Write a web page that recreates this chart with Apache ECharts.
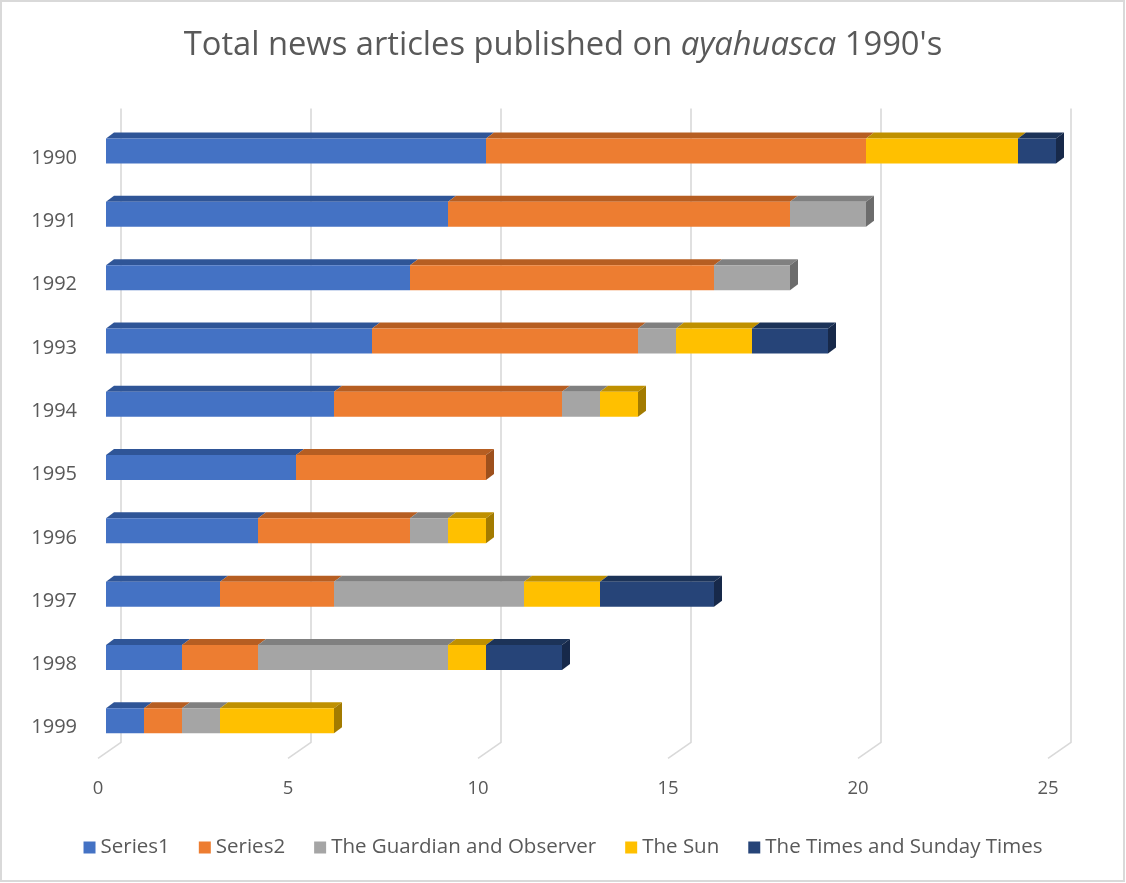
<!DOCTYPE html>
<html>
<head>
<meta charset="utf-8">
<script src="https://cdn.jsdelivr.net/npm/echarts@6/dist/echarts.min.js"></script>
<style>html,body{margin:0;padding:0;background:#fff;}#c{width:1126px;height:883px;}</style>
</head>
<body>
<div id="c"></div>
<script>
// ---- data ----
var years = ['1990','1991','1992','1993','1994','1995','1996','1997','1998','1999'];
var seriesNames = ['Series1','Series2','The Guardian and Observer','The Sun','The Times and Sunday Times'];
var series1  = [10, 9, 8, 7, 6, 5, 4, 3, 2, 1];
var series2  = [10, 9, 8, 7, 6, 5, 4, 3, 2, 1];
var guardian = [0, 2, 2, 1, 1, 0, 1, 5, 5, 1];
var sun      = [4, 0, 0, 2, 1, 0, 1, 2, 1, 3];
var times    = [1, 0, 0, 2, 0, 0, 0, 3, 2, 0];
var xTicks   = [0, 5, 10, 15, 20, 25];

var values = [series1, series2, guardian, sun, times];
var fronts = ['#4472C4','#ED7D31','#A5A5A5','#FFC000','#264478'];
var tops   = ['#2F5597','#B65E22','#808080','#BF9000','#1C3358'];
var sides  = ['#284A85','#9E501C','#6C6C6C','#A37B00','#17294A'];

var FONT = '"Open Sans", sans-serif';
var TXT = '#595959';
var DX = 8, DY = 6, FACE_H = 25;

// build stacked segments
var segData = values.map(function(){ return []; });
for (var i = 0; i < years.length; i++) {
  var acc = 0, lastIdx = -1;
  for (var s = 0; s < values.length; s++) if (values[s][i] > 0) lastIdx = s;
  for (var s2 = 0; s2 < values.length; s2++) {
    var v = values[s2][i];
    if (v > 0) segData[s2].push([acc, acc + v, i, s2 === lastIdx ? 1 : 0]);
    acc += v;
  }
}

function barRender(sIdx) {
  return function(params, api) {
    var x0 = api.coord([api.value(0), api.value(2)]);
    var x1 = api.coord([api.value(1), api.value(2)]);
    var yc = x0[1];
    var yt = yc - FACE_H / 2, yb = yc + FACE_H / 2;
    var a = x0[0], b = x1[0];
    var children = [
      {type:'polygon', shape:{points:[[a,yt],[b,yt],[b+DX,yt-DY],[a+DX,yt-DY]]}, style:{fill:tops[sIdx]}},
      {type:'rect', shape:{x:a, y:yt, width:b-a, height:FACE_H}, style:{fill:fronts[sIdx]}}
    ];
    if (api.value(3) === 1) {
      children.push({type:'polygon', shape:{points:[[b,yt],[b+DX,yt-DY],[b+DX,yb-DY],[b,yb]]}, style:{fill:sides[sIdx]}});
    }
    return {type:'group', children: children};
  };
}

var seriesList = [];
// wall / floor gridlines
seriesList.push({
  type:'custom', name:'_grid', silent:true, z:1, legendHoverLink:false,
  data: xTicks.map(function(t){ return [t, 0]; }),
  encode:{x:0, y:1},
  renderItem: function(params, api) {
    var cs = params.coordSys;
    var x = api.coord([api.value(0), 0])[0];
    var top = cs.y - 11, bot = cs.y + cs.height - 10;
    return {type:'polyline', shape:{points:[[x+15, top],[x+15, bot],[x-8, bot+16]]},
      style:{stroke:'#D9D9D9', lineWidth:1.6, fill:null}};
  }
});
for (var k = 0; k < values.length; k++) {
  seriesList.push({
    type:'custom', name: seriesNames[k], z: 2 + k,
    itemStyle:{color: fronts[k]},
    data: segData[k],
    encode:{x:[0,1], y:2},
    renderItem: barRender(k)
  });
}

var chart = echarts.init(document.getElementById('c'), null, {renderer:'canvas'});
chart.setOption({
  animation:false,
  backgroundColor:'#fff',
  title:{
    left:'center', top:24,
    text:'{a|Total news articles published on }{b|ayahuasca}{a| 1990\'s}',
    textStyle:{
      fontWeight:'normal',
      rich:{
        a:{fontFamily:FONT, fontSize:32.7, color:TXT, fontWeight:'normal'},
        b:{fontFamily:FONT, fontSize:32.7, color:TXT, fontStyle:'italic', fontWeight:'normal'}
      }
    }
  },
  legend:{
    bottom:20, left:'center',
    data: seriesNames,
    icon:'rect', itemWidth:12, itemHeight:12, itemGap:29,
    textStyle:{fontFamily:FONT, fontSize:20.5, color:TXT}
  },
  grid:{left:106, right:70, top:119.4, bottom:130.6, containLabel:false},
  xAxis:{
    type:'value', min:0, max:25, interval:5,
    axisLine:{show:false}, axisTick:{show:false}, splitLine:{show:false},
    axisLabel:{margin:27, fontFamily:FONT, fontSize:18.5, color:TXT, padding:[0,16,0,0]}
  },
  yAxis:{
    type:'category', data: years, inverse:true,
    axisLine:{show:false}, axisTick:{show:false}, splitLine:{show:false},
    axisLabel:{margin:29, fontFamily:FONT, fontSize:20, color:TXT, verticalAlign:'top', lineHeight:14}
  },
  graphic:[{type:'rect', shape:{x:1, y:1, width:1123, height:880}, style:{fill:null, stroke:'#D9D9D9', lineWidth:2}, silent:true}],
  series: seriesList
});
</script>
</body>
</html>
